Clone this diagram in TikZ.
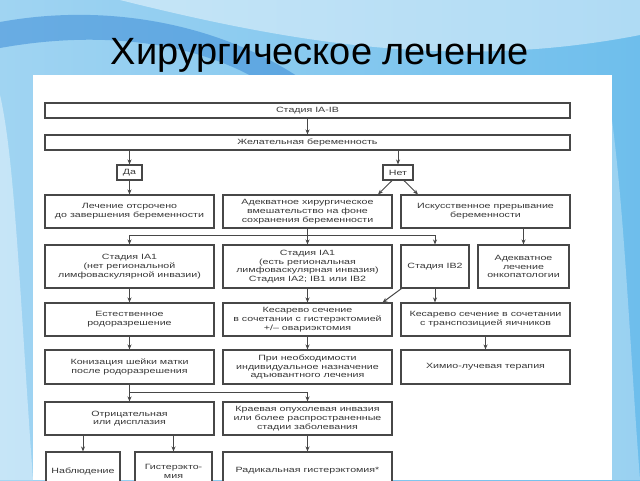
\documentclass[tikz,border=0pt]{standalone}
\usepackage{fontspec}
\setmainfont{Liberation Sans}
\newfontfamily\boxfont[FakeStretch=1.4]{Liberation Sans}
\usepackage{xcolor}
\usepackage{tikz}
\usetikzlibrary{positioning, calc, arrows.meta}

\definecolor{linegray}{HTML}{474747}
\definecolor{txtgray}{HTML}{383838}
\definecolor{skyA}{RGB}{160,212,242}
\definecolor{skyB}{RGB}{110,190,236}
\definecolor{skyC}{RGB}{60,140,215}

\tikzset{
  blk/.style={draw=linegray, line width=1.1pt, fill=white, align=center,
    inner sep=1pt, text=txtgray, font=\boxfont\fontsize{7.6}{8.8}\selectfont},
  wbox/.style={blk, minimum width=169, minimum height=33},
  arr/.style={->, draw=linegray, line width=1pt},
  lnk/.style={draw=linegray, line width=1pt}
}

\begin{document}
\begin{tikzpicture}[x=1pt, y=-1pt, >={Stealth[length=5pt,width=4pt]}]
        \useasboundingbox (0,0) rectangle (640,480);

        % Draw slide background
        \shade[left color=skyA, right color=skyB] (0,0) rectangle (640,480);
        \fill[white, opacity=0.45] (120,0) .. controls (300,45) and (460,70) .. (640,35) -- (640,0) -- cycle;
        \fill[skyC, opacity=0.55] (0,22) .. controls (110,2) and (220,25) .. (300,78) -- (255,78) .. controls (190,42) and (100,30) .. (0,48) -- cycle;
        \fill[white, opacity=0.4] (0,95) .. controls (15,160) and (20,300) .. (33,480) -- (0,480) -- cycle;
        \fill[white, opacity=0.3] (612,120) .. controls (625,220) and (630,350) .. (640,480) -- (612,480) -- cycle;

        % Title
        \node[anchor=base, font=\fontsize{38}{40}\selectfont, text=black] (title) at (320,64) {Хирургическое лечение};

        % White panel
        \fill[white] (33,75) rectangle (612,480);

        % Top rows
        \node[blk, minimum width=525, minimum height=15] (stage) at (307.5,110.5) {Стадия IA-IB};
        \node[blk, minimum width=525, minimum height=15] (wish) at (307.5,142.5) {Желательная беременность};
        \node[blk, minimum width=25, minimum height=15] (yes) at (129.5,172.5) {Да};
        \node[blk, minimum width=30, minimum height=15] (no) at (398,172.5) {Нет};

        % Row 2
        \node[wbox] (delay) at (129.5,211.5) {Лечение отсрочено\\до завершения беременности};
        \node[wbox] (surg) at (307.5,211.5) {Адекватное хирургическое\\вмешательство на фоне\\сохранения беременности};
        \node[wbox] (abort) at (485.5,211.5) {Искусственное прерывание\\беременности};

        % Row 3
        \node[wbox, minimum height=43] (ia1a) at (129.5,266.5) {Стадия IA1\\(нет региональной\\лимфоваскулярной инвазии)};
        \node[wbox, minimum height=43] (ia1b) at (307.5,266.5) {Стадия IA1\\(есть региональная\\лимфоваскулярная инвазия)\\Стадия IA2; IB1 или IB2};
        \node[blk, minimum width=68, minimum height=43] (ib2) at (435,266.5) {Стадия IB2};
        \node[blk, minimum width=91, minimum height=43] (onco) at (523.5,266.5) {Адекватное\\лечение\\онкопатологии};

        % Row 4
        \node[wbox] (natural) at (129.5,319.5) {Естественное\\родоразрешение};
        \node[wbox] (cesar) at (307.5,319.5) {Кесарево сечение\\в сочетании с гистерэктомией\\+/– овариэктомия};
        \node[wbox] (cesar2) at (485.5,319.5) {Кесарево сечение в сочетании\\с транспозицией яичников};

        % Row 5
        \node[wbox, minimum height=34] (koniz) at (129.5,367) {Конизация шейки матки\\после родоразрешения};
        \node[wbox, minimum height=34] (adjuv) at (307.5,367) {При необходимости\\индивидуальное назначение\\адъювантного лечения};
        \node[wbox, minimum height=34] (chemo) at (485.5,367) {Химио-лучевая терапия};

        % Row 6
        \node[wbox] (neg) at (129.5,418.5) {Отрицательная\\или дисплазия};
        \node[wbox] (edge) at (307.5,418.5) {Краевая опухолевая инвазия\\или более распространенные\\стадии заболевания};

        % Row 7 (cut off at the bottom)
        \node[blk, minimum width=74, minimum height=38] (obs) at (83,471) {Наблюдение};
        \node[blk, minimum width=77, minimum height=38] (hyst) at (173.5,471) {Гистерэкто-\\мия};
        \node[wbox, minimum height=38] (radical) at (307.5,471) {Радикальная гистерэктомия*};

        % Junction points
        \coordinate (jn1) at (307.5,235);
        \coordinate (jn2) at (129.5,392);

        % Connectors
        \draw[arr] (stage) -- (wish);
        \draw[arr] (wish.south -| yes.north) -- (yes.north);
        \draw[arr] (wish.south -| no.north) -- (no.north);
        \draw[arr] (yes) -- (delay);
        \draw[arr] ([xshift=-6]no.south) -- ([xshift=70.5]surg.north);
        \draw[arr] ([xshift=6]no.south) -- ([xshift=-67.5]abort.north);

        \draw[lnk] (surg.south) -- (jn1);
        \draw[arr] (jn1) -| (ia1a.north);
        \draw[arr] (jn1) -- (ia1b.north);
        \draw[arr] (jn1) -| (ib2.north);
        \draw[arr] (abort.south -| onco.north) -- (onco.north);

        \draw[arr] (ia1a) -- (natural);
        \draw[arr] (ia1b) -- (cesar);
        \draw[arr] (ib2.south) -- (ib2.south |- cesar2.north);
        \draw[arr] ([xshift=1]ib2.south west) -- ([xshift=-10]cesar.north east);

        \draw[arr] (natural) -- (koniz);
        \draw[arr] (cesar) -- (adjuv);
        \draw[arr] (cesar2) -- (chemo);

        \draw[lnk] (koniz.south) -- (jn2);
        \draw[arr] (jn2) -- (neg.north);
        \draw[arr] (jn2) -| (edge.north);

        \draw[arr] (neg.south -| obs.north) -- (obs.north);
        \draw[arr] (neg.south -| hyst.north) -- (hyst.north);
        \draw[arr] (edge) -- (radical);
\end{tikzpicture}
\end{document}
